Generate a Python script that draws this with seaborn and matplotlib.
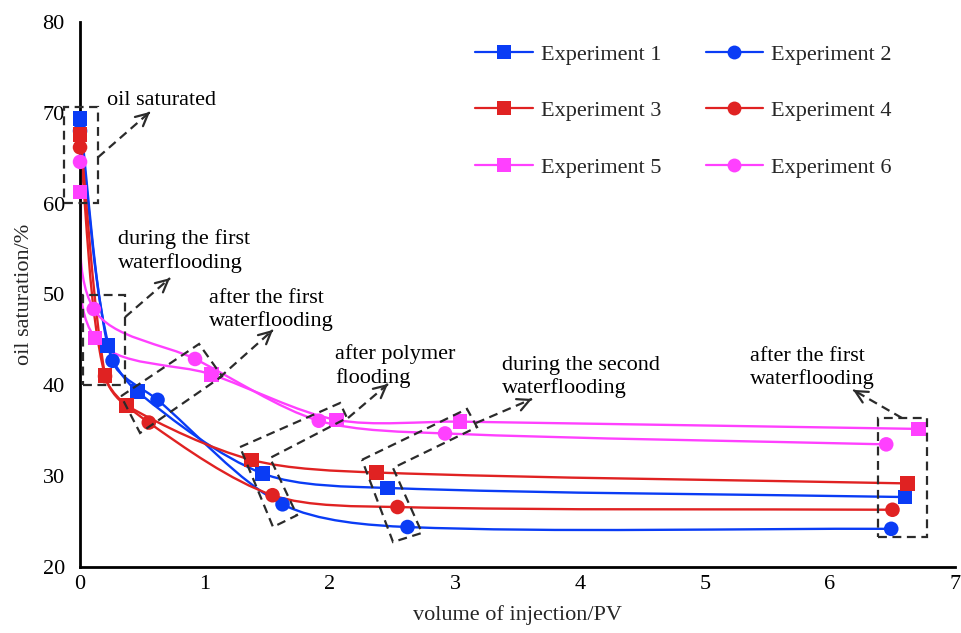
import numpy as np
import pandas as pd
import matplotlib
matplotlib.use('Agg')
import matplotlib.pyplot as plt
import seaborn as sns
from matplotlib.path import Path
from matplotlib.patches import PathPatch, Polygon
from matplotlib.lines import Line2D
from matplotlib.ticker import MultipleLocator

# data (volume of injection / PV, oil saturation / %)
exp1_x = [0, 0.22, 0.46, 1.46, 2.46, 6.60]
exp1_y = [69.4, 44.4, 39.3, 30.3, 28.7, 27.7]
exp2_x = [0, 0.26, 0.62, 1.62, 2.62, 6.49]
exp2_y = [68.0, 42.7, 38.4, 26.9, 24.4, 24.2]
exp3_x = [0, 0.20, 0.37, 1.37, 2.37, 6.62]
exp3_y = [67.6, 41.1, 37.8, 31.8, 30.4, 29.2]
exp4_x = [0, 0.20, 0.55, 1.54, 2.54, 6.50]
exp4_y = [66.2, 41.0, 35.9, 27.9, 26.6, 26.3]
exp5_x = [0, 0.12, 1.05, 2.05, 3.04, 6.71]
exp5_y = [61.3, 45.2, 41.2, 36.2, 36.0, 35.2]
exp6_x = [0, 0.11, 0.92, 1.91, 2.92, 6.45]
exp6_y = [64.6, 48.4, 42.9, 36.1, 34.7, 33.5]

names = ['Experiment 1', 'Experiment 2', 'Experiment 3',
         'Experiment 4', 'Experiment 5', 'Experiment 6']
xs = [exp1_x, exp2_x, exp3_x, exp4_x, exp5_x, exp6_x]
ys = [exp1_y, exp2_y, exp3_y, exp4_y, exp5_y, exp6_y]

# styles
blue = '#0a3cf5'
red = '#e02222'
pink = '#ff40ff'
dark = '#2b2b2b'
colors = dict(zip(names, [blue, blue, red, red, pink, pink]))
markers = dict(zip(names, ['s', 'o', 's', 'o', 's', 'o']))
fs = 16
dash = (0, (4, 2.5))

sns.set_style('white')
plt.rcParams['font.family'] = ['Liberation Serif', 'DejaVu Serif']

df = pd.concat([pd.DataFrame({'x': x, 'y': y, 'experiment': n})
                for x, y, n in zip(xs, ys, names)], ignore_index=True)

fig = plt.figure(figsize=(9.62, 6.33), dpi=100)
ax = fig.add_axes([0.0832, 0.1043, 0.9095, 0.8610])
ax.set_xlim(0, 7)
ax.set_ylim(20, 80)


def _unit(v):
    return v / np.hypot(*v)


def smooth_path(ax, x, y, k=0.3):
    # smooth line through the points: bezier with catmull-rom tangent
    # directions, worked out in pixel space so x and y scale alike
    pts = ax.transData.transform(np.column_stack([x, y]))
    n = len(pts)
    tang = [_unit(pts[min(i + 1, n - 1)] - pts[max(i - 1, 0)])
            for i in range(n)]
    verts = [pts[0]]
    codes = [Path.MOVETO]
    for i in range(n - 1):
        seg = np.hypot(*(pts[i + 1] - pts[i])) * k
        verts += [pts[i] + tang[i] * seg, pts[i + 1] - tang[i + 1] * seg,
                  pts[i + 1]]
        codes += [Path.CURVE4] * 3
    verts = ax.transData.inverted().transform(np.array(verts))
    return Path(verts, codes)


for x, y, n in zip(xs, ys, names):
    ax.add_patch(PathPatch(smooth_path(ax, x, y), facecolor='none',
                           edgecolor=colors[n], lw=1.7, zorder=2))

sns.scatterplot(data=df, x='x', y='y', hue='experiment', style='experiment',
                palette=colors, markers=markers, s=110, edgecolor='none',
                legend=False, zorder=3, clip_on=False, ax=ax)


# annotation helpers
def dashed_poly(pts):
    ax.add_patch(Polygon(pts, closed=True, fill=False, edgecolor=dark,
                         lw=1.6, linestyle=dash, clip_on=False, zorder=4))


def dashed_arrow(start, end):
    ax.plot([start[0], end[0]], [start[1], end[1]], color=dark, lw=1.6,
            linestyle=dash, clip_on=False, zorder=4)
    s = np.array(start)
    e = np.array(end)
    ax.annotate('', xy=e, xytext=e - 0.02 * (e - s),
                arrowprops=dict(arrowstyle='->', color=dark, lw=1.6,
                                mutation_scale=22, shrinkA=0, shrinkB=0),
                zorder=4)


def note(x, y, s):
    ax.text(x, y, s, fontsize=fs, ha='left', va='center', linespacing=1.25,
            color='k', zorder=5)


# oil saturated
dashed_poly([(-0.13, 60.1), (0.14, 60.1), (0.14, 70.6), (-0.13, 70.6)])
dashed_arrow((0.144, 65.1), (0.56, 70.1))
note(0.216, 71.3, 'oil saturated')
# during the first waterflooding
dashed_poly([(0.02, 40.0), (0.36, 40.0), (0.36, 49.9), (0.02, 49.9)])
dashed_arrow((0.36, 47.5), (0.72, 51.8))
note(0.304, 54.8, 'during the first\nwaterflooding')
# after the first waterflooding
dashed_poly([(0.328, 38.8), (0.952, 44.55), (1.136, 41.0), (0.48, 34.75)])
dashed_arrow((1.112, 40.8), (1.544, 46.1))
note(1.032, 48.3, 'after the first\nwaterflooding')
# after polymer flooding
dashed_poly([(1.28, 33.2), (2.08, 38.05), (2.136, 36.4), (1.52, 32.0),
             (1.736, 25.7), (1.544, 24.4)])
dashed_arrow((2.144, 36.4), (2.464, 40.15))
note(2.04, 42.1, 'after polymer\nflooding')
# during the second waterflooding
dashed_poly([(2.256, 31.8), (3.096, 37.4), (3.176, 35.4), (2.504, 30.9),
             (2.736, 23.75), (2.504, 22.75)])
dashed_arrow((3.168, 35.85), (3.616, 38.5))
note(3.376, 40.9, 'during the second\nwaterflooding')
# after the first waterflooding (right)
dashed_poly([(6.384, 23.3), (6.776, 23.3), (6.776, 36.4), (6.384, 36.4)])
dashed_arrow((6.576, 36.4), (6.184, 39.5))
note(5.36, 41.9, 'after the first\nwaterflooding')

# axes garnish
ax.xaxis.set_major_locator(MultipleLocator(1))
ax.xaxis.set_minor_locator(MultipleLocator(0.2))
ax.yaxis.set_major_locator(MultipleLocator(10))
ax.yaxis.set_minor_locator(MultipleLocator(2))
ax.tick_params(which='both', direction='in', width=1.5, color='k',
               labelsize=fs, labelcolor='k')
ax.tick_params(which='major', length=7)
ax.tick_params(which='minor', length=4)
ax.tick_params(axis='y', which='major', pad=11)
ax.tick_params(axis='x', which='major', pad=6)
for side in ['top', 'right']:
    ax.spines[side].set_visible(False)
for side in ['left', 'bottom']:
    ax.spines[side].set_linewidth(2)
    ax.spines[side].set_color('k')
ax.set_xlabel('volume of injection/PV', fontsize=fs, labelpad=8)
ax.set_ylabel('oil saturation/%', fontsize=fs, labelpad=6)

# legend (two columns, row-wise order)
handles = {n: Line2D([], [], color=colors[n], marker=markers[n], lw=1.6,
                     markersize=10, markeredgewidth=0) for n in names}
order = [names[0], names[2], names[4], names[1], names[3], names[5]]
ax.legend([handles[n] for n in order], order, ncol=2, frameon=False,
          fontsize=fs, loc='upper left',
          bbox_to_anchor=(475 / 962, 1 - 44 / 633),
          bbox_transform=fig.transFigure, borderpad=0, borderaxespad=0,
          handlelength=2.6, handletextpad=0.35, labelspacing=1.62,
          columnspacing=2.0)

fig.savefig('out.png', dpi=100)
